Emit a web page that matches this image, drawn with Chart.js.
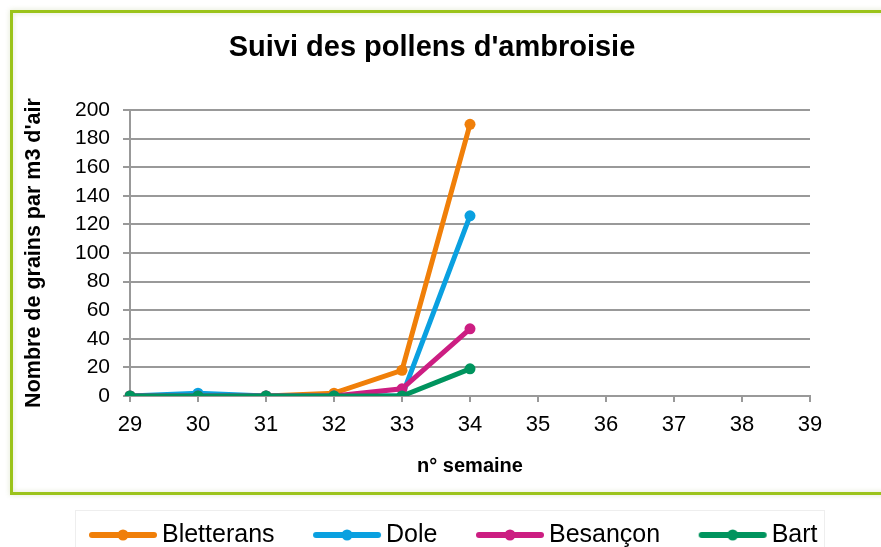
<!DOCTYPE html>
<html>
<head>
<meta charset="utf-8">
<script src="https://cdn.jsdelivr.net/npm/chart.js@4"></script>
<style>
  html, body { margin: 0; padding: 0; background: #fff; }
  #wrap { position: relative; width: 881px; height: 547px; }
</style>
</head>
<body>
<div id="wrap"><canvas id="chart" width="881" height="547"></canvas></div>
<script>
'use strict';

// week numbers on the x axis
var weeks = ['29', '30', '31', '32', '33', '34', '35', '36', '37', '38', '39'];

// pollen grains per m3 of air, weeks 29 -> 34
var bletterans = [0, 0, 0, 2, 18, 190];
var dole = [0, 2, 0, 0, 0, 126];
var besancon = [0, 0, 0, 0, 5, 47];
var bart = [0, 0, 0, 0, 0, 19];

var seriesNames = ['Bletterans', 'Dole', 'Besançon', 'Bart'];
var seriesColors = ['#F07F09', '#0AA0E0', '#CC1E82', '#00945E'];

var FONT = "'Liberation Sans', Arial, sans-serif";

// little line + dot marker for the legend
function legendMarker(color) {
  var c = document.createElement('canvas');
  c.width = 70;
  c.height = 14;
  var g = c.getContext('2d');
  g.strokeStyle = color;
  g.lineWidth = 6;
  g.lineCap = 'round';
  g.beginPath();
  g.moveTo(4, 7);
  g.lineTo(66, 7);
  g.stroke();
  g.fillStyle = color;
  g.beginPath();
  g.arc(35, 7, 5.5, 0, Math.PI * 2);
  g.fill();
  return c;
}

// green frame around the chart and the faint box round the legend
var framePlugin = {
  id: 'frame',
  afterLayout: function (chart) {
    // the legend row sits a bit right of the title's centre
    chart.legend.left += 25;
    chart.legend.right += 25;
    chart.legend.top += 2;
    chart.legend.bottom += 2;
  },
  beforeDraw: function (chart) {
    var c = chart.ctx;
    c.save();
    c.strokeStyle = '#eeeeee';
    c.lineWidth = 1;
    c.strokeRect(75.5, 510.5, 749, 45);
    c.shadowColor = 'rgba(120,150,40,0.25)';
    c.shadowBlur = 5;
    c.strokeStyle = '#9BC31A';
    c.lineWidth = 3;
    c.strokeRect(11.5, 11.5, 880, 482);
    c.restore();
  }
};

var allData = [bletterans, dole, besancon, bart];
var datasets = [];
for (var i = 0; i < seriesNames.length; i++) {
  datasets.push({
    label: seriesNames[i],
    data: allData[i],
    borderColor: seriesColors[i],
    backgroundColor: seriesColors[i],
    borderWidth: 5,
    pointRadius: 5.5,
    pointHoverRadius: 5.5,
    pointBorderWidth: 0,
    pointStyle: 'circle',
    tension: 0,
    order: seriesNames.length - i,
    legendMarker: legendMarker(seriesColors[i])
  });
}

var ctx = document.getElementById('chart').getContext('2d');

var chart = new Chart(ctx, {
  type: 'line',
  data: {
    labels: weeks,
    datasets: datasets
  },
  plugins: [framePlugin],
  options: {
    responsive: false,
    animation: false,
    layout: {
      padding: { left: 20, right: 37, top: 0, bottom: -8.5 }
    },
    plugins: {
      title: {
        display: true,
        text: "Suivi des pollens d'ambroisie",
        color: '#000',
        font: { family: FONT, size: 29, weight: 'bold' },
        padding: { top: 30.6, bottom: 44.6 }
      },
      legend: {
        position: 'bottom',
        labels: {
          color: '#000',
          font: { family: FONT, size: 25 },
          usePointStyle: true,
          pointStyleWidth: 53,
          padding: 46,
          generateLabels: function (chart) {
            return chart.data.datasets.map(function (ds, idx) {
              return {
                text: ds.label,
                pointStyle: ds.legendMarker,
                fontColor: '#000',
                lineWidth: 0,
                datasetIndex: idx
              };
            });
          }
        }
      },
      tooltip: { enabled: false }
    },
    scales: {
      x: {
        type: 'category',
        offset: false,
        grid: { display: true, drawOnChartArea: false, drawTicks: true, tickLength: 6, color: '#999', lineWidth: 2 },
        border: { color: '#999', width: 2 },
        ticks: { color: '#000', font: { family: FONT, size: 22 }, padding: 10, maxRotation: 0, autoSkip: false },
        title: {
          display: true,
          text: 'n° semaine',
          color: '#000',
          font: { family: FONT, size: 20, weight: 'bold' },
          padding: { top: 0, bottom: -3.5 }
        },
        afterFit: function (scale) { scale.height = 78.5; }
      },
      y: {
        min: 0,
        max: 200,
        grid: { color: '#999', lineWidth: 2, tickLength: 7 },
        border: { color: '#999', width: 2 },
        ticks: { stepSize: 20, autoSkip: false, color: '#000', font: { family: FONT, size: 21 }, padding: 13 },
        title: {
          display: true,
          text: "Nombre de grains par m3 d'air",
          color: '#000',
          font: { family: FONT, size: 21.5, weight: 'bold' },
          padding: { top: 1.6, bottom: 0 }
        },
        afterFit: function (scale) { scale.width = 110; }
      },
      yR: {
        position: 'right',
        display: true,
        grid: { display: false },
        border: { display: false },
        ticks: { display: false },
        afterFit: function (scale) { scale.width = 34; }
      }
    }
  }
});
</script>
</body>
</html>
